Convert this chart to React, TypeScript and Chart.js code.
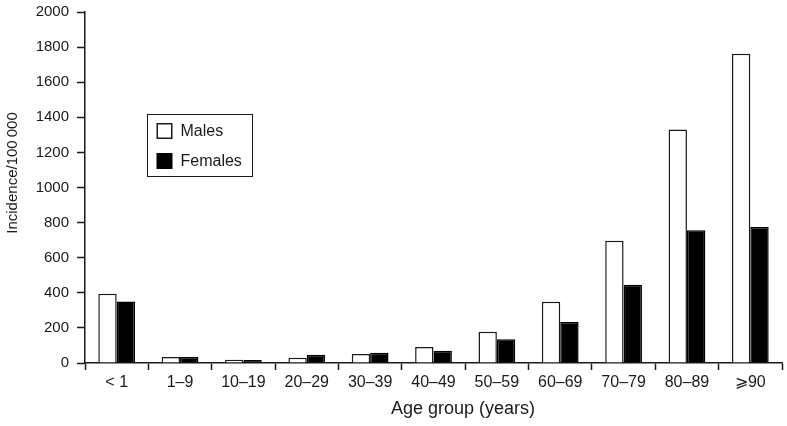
import React, { useEffect, useRef } from "react";
import { Chart, registerables } from "chart.js";

Chart.register(...registerables);

const categories = ["< 1", "1–9", "10–19", "20–29", "30–39", "40–49", "50–59", "60–69", "70–79", "80–89", "\u2A7E90"];
const males = [395, 34, 19, 30, 51, 91, 178, 349, 697, 1330, 1762];
const females = [351, 34, 17, 47, 59, 70, 135, 233, 446, 756, 775];
const yTitle = "Incidence/100\u2009000";
const xTitle = "Age group (years)";
const legendLabels = ["Males", "Females"];

const FONT = "'Liberation Sans', Arial, Helvetica, sans-serif";
const INK = "#1a1a1a";
const SHIFT = 5;

const overlayPlugin = {
  id: "overlay",
  afterDraw(chart: any) {
    const ctx = chart.ctx;
    const area = chart.chartArea;
    ctx.save();
    ctx.translate(0, SHIFT);
    ctx.fillStyle = INK;
    // y title
    ctx.font = `15px ${FONT}`;
    ctx.textAlign = "center";
    ctx.textBaseline = "middle";
    ctx.save();
    ctx.translate(13, 173);
    ctx.rotate(-Math.PI / 2);
    ctx.fillText(yTitle, 0, 0);
    ctx.restore();
    // x title
    ctx.font = `18px ${FONT}`;
    ctx.fillText(xTitle, 463, 409);
    // legend
    const lx = area.left + 62.5;
    const ly = 114.5;
    ctx.strokeStyle = INK;
    ctx.lineWidth = 1;
    ctx.strokeRect(lx, ly, 105, 62);
    const sw = 16;
    const rows = [131, 161];
    ctx.font = `16px ${FONT}`;
    ctx.textAlign = "left";
    rows.forEach((cy, i) => {
      const sx = lx + 9;
      const sy = cy - sw / 2;
      if (i === 0) {
        ctx.fillStyle = "#ffffff";
        ctx.fillRect(sx, sy, sw, sw);
        ctx.lineWidth = 1.5;
        ctx.strokeStyle = INK;
        ctx.strokeRect(sx + 0.75, sy + 0.75, sw - 1.5, sw - 1.5);
      } else {
        ctx.fillStyle = "#000000";
        ctx.fillRect(sx, sy, sw, sw);
      }
      ctx.fillStyle = INK;
      ctx.fillText(legendLabels[i], lx + 33, cy + 1);
    });
    ctx.restore();
  },
};

export default function App() {
  const ref = useRef<HTMLCanvasElement | null>(null);
  useEffect(() => {
    if (!ref.current) return;
    const chart = new Chart(ref.current, {
      type: "bar",
      data: {
        labels: categories,
        datasets: [
          {
            label: legendLabels[0],
            data: males,
            backgroundColor: "#ffffff",
            borderColor: INK,
            borderWidth: 1.5,
          },
          {
            label: legendLabels[1],
            data: females,
            backgroundColor: "#000000",
            borderColor: "#000000",
            borderWidth: 1.5,
          },
        ],
      },
      options: {
        animation: false,
        responsive: true,
        maintainAspectRatio: false,
        layout: { padding: { top: 7, right: 5, left: 0, bottom: 0 } },
        datasets: { bar: { barPercentage: 1, categoryPercentage: 0.58 } },
        plugins: {
          legend: { display: false },
          tooltip: { enabled: false },
          title: { display: false },
        },
        scales: {
          x: {
            grid: {
              display: true,
              drawOnChartArea: false,
              drawTicks: true,
              tickLength: 7,
              tickWidth: 1.5,
              color: INK,
              offset: true,
            },
            border: { display: true, color: INK, width: 1.5 },
            ticks: {
              color: INK,
              font: { family: FONT, size: 16 },
              padding: 3,
              maxRotation: 0,
              autoSkip: false,
            },
            afterFit(scale: any) {
              scale.height = 63;
            },
          },
          y: {
            min: 0,
            max: 2000,
            ticks: {
              stepSize: 200,
              color: INK,
              font: { family: FONT, size: 15 },
              padding: 8,
              callback: (v: any) => String(v),
            },
            grid: {
              display: true,
              drawOnChartArea: false,
              drawTicks: true,
              tickLength: 8,
              tickWidth: 1.5,
              color: INK,
            },
            border: { display: true, color: INK, width: 1.5 },
            afterFit(scale: any) {
              scale.width = 85;
            },
          },
        },
      },
      plugins: [overlayPlugin],
    });
    return () => chart.destroy();
  }, []);
  return (
    <div
      style={{
        position: "fixed",
        left: 0,
        top: -SHIFT,
        width: 787,
        height: 426 + SHIFT,
        background: "#fff",
      }}
    >
      <canvas ref={ref} />
    </div>
  );
}
